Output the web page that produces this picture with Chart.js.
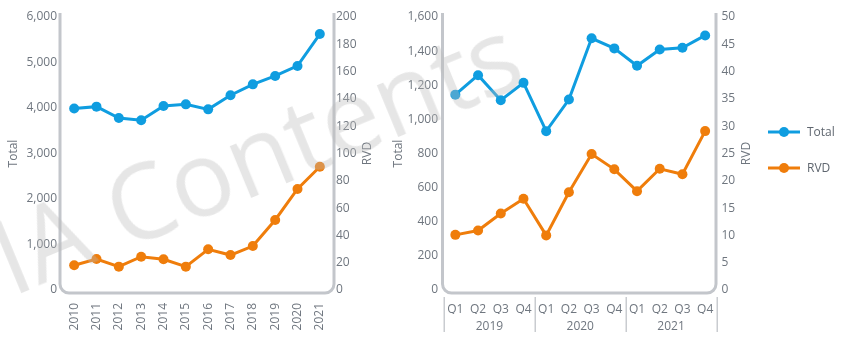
<!DOCTYPE html>
<html><head><meta charset="utf-8">
<script src="https://cdn.jsdelivr.net/npm/chart.js@4.4.0/dist/chart.umd.min.js"></script>
<style>
html,body{margin:0;padding:0;background:#fff;width:848px;height:342px;overflow:hidden;}
#c1wrap{position:absolute;left:0;top:0;width:382px;height:342px;}
#c2wrap{position:absolute;left:382px;top:0;width:466px;height:342px;}
#wm{position:absolute;left:12px;top:205px;font-family:'Open Sans';font-weight:400;font-size:104px;line-height:104px;color:rgba(185,185,185,0.36);white-space:nowrap;transform-origin:0 92px;transform:rotate(-22.5deg);pointer-events:none;}
</style></head><body>
<div id="c1wrap"><canvas id="c1"></canvas></div>
<div id="c2wrap"><canvas id="c2"></canvas></div>
<div id="wm">IA Contents</div>
<script>
// ---- data ----
const years = ['2010','2011','2012','2013','2014','2015','2016','2017','2018','2019','2020','2021'];
const annualTotal = [3990, 4030, 3780, 3730, 4045, 4080, 3970, 4280, 4520, 4705, 4925, 5625];
const annualRVD = [18.1, 22.7, 17.1, 24.4, 22.5, 17.1, 29.8, 25.6, 32.2, 51.3, 74.0, 90.3];

const quarters = ['Q1','Q2','Q3','Q4','Q1','Q2','Q3','Q4','Q1','Q2','Q3','Q4'];
const quarterYears = ['2019','2020','2021'];
const quarterlyTotal = [1145, 1259, 1112, 1214, 931, 1116, 1475, 1416, 1314, 1410, 1420, 1492];
const quarterlyRVD = [10.1, 10.9, 14.0, 16.7, 10.0, 17.9, 24.9, 22.1, 18.1, 22.2, 21.2, 29.1];

const annualTotalTicks = [0, 1000, 2000, 3000, 4000, 5000, 6000];
const annualRVDTicks = [0, 20, 40, 60, 80, 100, 120, 140, 160, 180, 200];
const quarterlyTotalTicks = [0, 200, 400, 600, 800, 1000, 1200, 1400, 1600];
const quarterlyRVDTicks = [0, 5, 10, 15, 20, 25, 30, 35, 40, 45, 50];

const seriesNames = ['Total', 'RVD'];
const axisTitles = {left: 'Total', right: 'RVD'};

// ---- styles ----
const BLUE = '#0f9de0';
const ORANGE = '#ef7d0b';
const TICK = '#6f767f';
const FRAME = '#c3c6cb';
const FONT = "'Open Sans', 'Noto Sans', sans-serif";

function ds(label, data, color, axis) {
  return {label, data, yAxisID: axis, borderColor: color, backgroundColor: color,
    borderWidth: 3, pointRadius: 5, pointHoverRadius: 5, pointBorderWidth: 0,
    pointBackgroundColor: color, tension: 0, clip: false};
}
function yScale(ticksArr, position, width, title, titlePad) {
  return {
    type: 'linear', position, min: ticksArr[0], max: ticksArr[ticksArr.length-1],
    afterBuildTicks: s => { s.ticks = ticksArr.map(v => ({value: v})); },
    grid: {display: false, drawTicks: false}, border: {display: false},
    ticks: {color: TICK, font: {family: FONT, size: 12}, padding: position === 'left' ? 6 : 5,
      callback: v => v.toLocaleString('en-US')},
    title: title ? {display: true, text: title, color: TICK, font: {family: FONT, size: 12}, padding: {top: titlePad}} : {display: false},
    afterFit: s => { s.width = width; }
  };
}

const framePlugin = {
  id: 'frame',
  beforeDatasetsDraw(chart, args, o) {
    const {left, right, top, bottom} = chart.chartArea;
    const ctx = chart.ctx;
    const L = left - o.inL, R = right + o.inR, T = top - 4, B = bottom + 3, r = 9;
    ctx.save();
    ctx.strokeStyle = FRAME; ctx.lineWidth = 3; ctx.lineJoin = 'round';
    ctx.beginPath();
    ctx.moveTo(L, T); ctx.lineTo(L, B - r); ctx.arcTo(L, B, L + r, B, r);
    ctx.lineTo(R - r, B); ctx.arcTo(R, B, R, B - r, r); ctx.lineTo(R, T);
    ctx.stroke();
    // right axis title, reading bottom-to-top
    ctx.fillStyle = TICK; ctx.font = '12px ' + FONT;
    ctx.translate(o.rtX, (top + bottom) / 2);
    ctx.rotate(-Math.PI / 2);
    ctx.textAlign = 'center'; ctx.textBaseline = 'middle';
    ctx.fillText(axisTitles.right, 0, 0);
    ctx.restore();
  },
  afterDraw(chart, args, o) {
    const ctx = chart.ctx;
    if (o.groups) {
      const xs = chart.scales.x;
      ctx.save();
      ctx.strokeStyle = '#c9ccd0'; ctx.lineWidth = 1.5;
      const n = chart.data.labels.length, per = n / quarterYears.length;
      for (let g = 0; g <= quarterYears.length; g++) {
        const x = Math.round(xs.getPixelForValue(g * per - 0.5)) + 0.25;
        ctx.beginPath(); ctx.moveTo(x, 297); ctx.lineTo(x, 332); ctx.stroke();
      }
      ctx.restore();
    }
    if (o.legend) {
      ctx.save();
      chart.data.datasets.forEach((d, i) => {
        const y = o.legend.y + i * 36, x = o.legend.x;
        ctx.strokeStyle = d.borderColor; ctx.fillStyle = d.borderColor; ctx.lineWidth = 3;
        ctx.beginPath(); ctx.moveTo(x, y); ctx.lineTo(x + 32, y); ctx.stroke();
        ctx.beginPath(); ctx.arc(x + 16, y, 5, 0, Math.PI * 2); ctx.fill();
        ctx.fillStyle = '#5f666f'; ctx.font = '12px ' + FONT;
        ctx.textAlign = 'left'; ctx.textBaseline = 'middle';
        ctx.fillText(d.label, x + 39, y + 1);
      });
      ctx.restore();
    }
  }
};

new Chart(document.getElementById('c1'), {
  type: 'line',
  data: {labels: years, datasets: [ds(seriesNames[0], annualTotal, BLUE, 'y'), ds(seriesNames[1], annualRVD, ORANGE, 'y1')]},
  options: {
    responsive: true, maintainAspectRatio: false, animation: false,
    layout: {padding: {top: 17, bottom: 0, left: 0, right: 0}},
    plugins: {legend: {display: false}, tooltip: {enabled: false},
      frame: {inL: 3, inR: 3, rtX: 368}},
    scales: {
      x: {type: 'category', offset: true, grid: {display: false, drawTicks: false}, border: {display: false},
        ticks: {color: TICK, font: {family: FONT, size: 12}, maxRotation: 90, minRotation: 90, autoSkip: false, padding: 13},
        afterFit: s => { s.height = 52; }},
      y: yScale(annualTotalTicks, 'left', 63, axisTitles.left, 6),
      y1: yScale(annualRVDTicks, 'right', 51, null, 0)
    }
  },
  plugins: [framePlugin]
});

new Chart(document.getElementById('c2'), {
  type: 'line',
  data: {labels: quarters, datasets: [ds(seriesNames[0], quarterlyTotal, BLUE, 'y'), ds(seriesNames[1], quarterlyRVD, ORANGE, 'y1')]},
  options: {
    responsive: true, maintainAspectRatio: false, animation: false,
    layout: {padding: {top: 17, bottom: 0, left: 0, right: 91.5}},
    plugins: {legend: {display: false}, tooltip: {enabled: false},
      frame: {inL: 1.5, inR: -0.5, rtX: 364.5, groups: true, legend: {x: 386, y: 132}}},
    scales: {
      x: {type: 'category', offset: true, grid: {display: false, drawTicks: false}, border: {display: false},
        ticks: {color: TICK, font: {family: FONT, size: 12}, maxRotation: 0, autoSkip: false, padding: 12},
        afterFit: s => { s.height = 24; }},
      x2: {type: 'category', labels: quarterYears, offset: true, position: 'bottom',
        grid: {display: false, drawTicks: false}, border: {display: false},
        ticks: {color: TICK, font: {family: FONT, size: 12}, maxRotation: 0, autoSkip: false, padding: 5},
        afterFit: s => { s.height = 28; }},
      y: yScale(quarterlyTotalTicks, 'left', 62, axisTitles.left, 9),
      y1: yScale(quarterlyRVDTicks, 'right', 40, null, 0)
    }
  },
  plugins: [framePlugin]
});
</script>
</body></html>
